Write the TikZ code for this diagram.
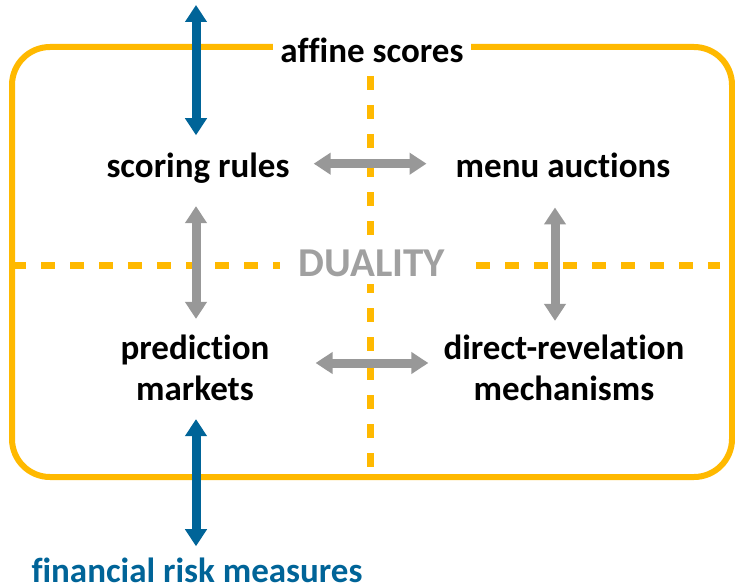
\documentclass[tikz,border=0pt]{standalone}
\usepackage{fontspec}
\setmainfont[Ligatures=CommonOff]{Carlito}
\usepackage{tikz}
\usetikzlibrary{arrows.meta}
\definecolor{frameorange}{RGB}{255,185,0}
\definecolor{riskblue}{RGB}{0,100,152}
\definecolor{dualgray}{RGB}{152,152,152}
\definecolor{labelgray}{RGB}{160,160,160}

\begin{document}
\begin{tikzpicture}[x=1pt, y=-1pt, >={Triangle[length=17pt,width=21pt]},
        lbl/.style={font=\fontsize{35}{41}\selectfont\bfseries, align=center, inner sep=0pt},
        dual/.style={dualgray, line width=9pt, <->},
        link/.style={riskblue, line width=9pt, <->},
        cross/.style={frameorange, line width=7pt, dash pattern=on 14pt off 15pt}]
        \useasboundingbox (0,0) rectangle (735,588);
        % frame and quadrants
        \draw[frameorange, line width=6pt, rounded corners=38pt] (12,47) rectangle (732,477);
        \draw[cross] (370,76) -- (370,467);
        \draw[cross] (12,265) -- (720,265);
        \node[lbl, anchor=base, fill=white, inner xsep=7pt, inner ysep=3pt] (af) at (372,63) {affine scores};
        \node[lbl, anchor=base, labelgray, fill=white, font=\fontsize{41}{41}\selectfont\bfseries,
            inner xsep=19pt, inner ysep=8pt] (du) at (372,276) {DUALITY};
        % the four settings
        \node[lbl, anchor=base] (sr) at (198,177) {scoring rules};
        \node[lbl, anchor=base] (ma) at (563,177) {menu auctions};
        \node[lbl] (pm) at (195,368) {prediction\\markets};
        \node[lbl] (dr) at (564,368) {direct-revelation\\mechanisms};
        \node[lbl, anchor=base, riskblue] (fr) at (197,582) {financial risk measures};
        \coordinate (top) at (196,5);
        % connections
        \draw[link, shorten >=17pt] (top) -- (top |- sr.north);
        \draw[link, shorten <=18pt, shorten >=11pt] (pm.south -| top) -- (fr.north -| top);
        \draw[dual, shorten <=24pt, shorten >=29pt] ([yshift=4pt]sr.east) -- ([yshift=4pt]sr.east -| ma.west);
        \draw[dual, shorten <=46pt, shorten >=15pt] ([yshift=5pt]pm.east) -- ([yshift=5pt]pm.east -| dr.west);
        \draw[dual, shorten <=23pt, shorten >=16pt] (sr.south -| top) -- (pm.north -| top);
        \draw[dual, shorten <=30pt, shorten >=14pt] ([xshift=-8pt]ma.south) -- ([xshift=-8pt]ma.south |- dr.north);
\end{tikzpicture}
\end{document}
